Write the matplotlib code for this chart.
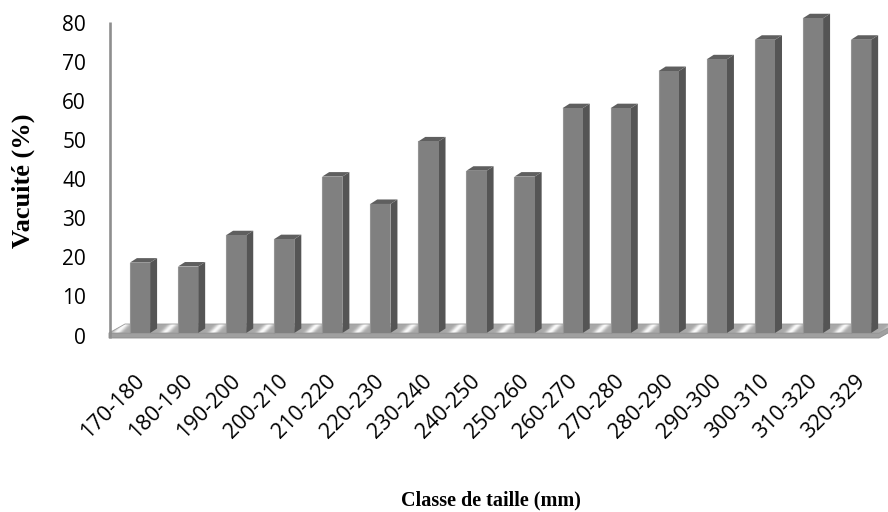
import numpy as np
import matplotlib
matplotlib.use("Agg")
import matplotlib.pyplot as plt
from matplotlib.patches import Polygon

# Size classes (mm) and stomach vacuity (%)
classes = ["170-180", "180-190", "190-200", "200-210", "210-220", "220-230",
           "230-240", "240-250", "250-260", "260-270", "270-280", "280-290",
           "290-300", "300-310", "310-320", "320-329"]
vacuite = [18, 17, 25, 24, 40, 33, 49, 41.5, 40, 57.5, 57.5, 67, 70, 75, 80.5, 75]
yticks = [0, 10, 20, 30, 40, 50, 60, 70, 80]

W, H, DPI = 888, 512, 100
fig = plt.figure(figsize=(W / DPI, H / DPI), dpi=DPI)

# pixel geometry of the plotting frame
px0, px1 = 100, 888          # left / right pixel of axes
py_top, py_bot = 5, 345      # top / bottom pixel (from top)
x_c0, x_step = 140.0, 48.07  # pixel centre of first bar, spacing
y_zero, y_scale = 333.0, 3.91  # pixel of value 0, pixels per unit

ax = fig.add_axes([px0 / W, 1 - py_bot / H, (px1 - px0) / W, (py_bot - py_top) / H])
ax.set_xlim((px0 - x_c0) / x_step, (px1 - x_c0) / x_step)
ax.set_ylim((y_zero - py_bot) / y_scale, (y_zero - py_top) / y_scale)
ax.axis("off")

def dx(p):
    return p / x_step

def dy(p):
    return p / y_scale

def xp(p):
    return (p - x_c0) / x_step

def yp(p):
    return (y_zero - p) / y_scale

# floor with metallic streaks
floor_top = [(xp(109), yp(333)), (xp(125), yp(324)), (xp(895), yp(324)), (xp(879), yp(333))]
floor_edge = [(xp(109), yp(333)), (xp(879), yp(333)), (xp(895), yp(324)),
              (xp(895), yp(329)), (xp(879), yp(338)), (xp(109), yp(338))]
edge_patch = Polygon(floor_edge, closed=True, facecolor="#a0a0a0", edgecolor="#8c8c8c",
                     lw=0.6, clip_on=False, zorder=1)
ax.add_patch(edge_patch)

gx = np.linspace(xp(105), xp(900), 800)
gy = np.linspace(yp(340), yp(322), 30)
GX, GY = np.meshgrid(gx, gy)
phase = (GX + 0.5) - 0.08 * (GY - yp(333))
streak = np.cos(2 * np.pi * phase) ** 6
img = 0.66 + 0.32 * streak
im = ax.imshow(img, extent=[gx[0], gx[-1], gy[0], gy[-1]], origin="lower",
               cmap="gray", vmin=0, vmax=1, aspect="auto", zorder=1.5,
               interpolation="bilinear")
top_patch = Polygon(floor_top, closed=True, facecolor="none", edgecolor="#9a9a9a",
                    lw=0.6, clip_on=False, zorder=1.6)
ax.add_patch(top_patch)
im.set_clip_path(top_patch)
im.set_clip_on(True)

# vertical value axis
ax.plot([xp(110), xp(110)], [yp(22), yp(338)], color="#8e8e8e", lw=1.9,
        solid_capstyle="butt", clip_on=False, zorder=2)

# 3D-looking bars
hw = 0.21
ddx, ddy = dx(7), dy(4.5)
for i, v in enumerate(vacuite):
    x0, x1 = i - hw, i + hw
    side = Polygon([(x1, 0), (x1 + ddx, ddy), (x1 + ddx, v + ddy), (x1, v)],
                   closed=True, facecolor="#555555", edgecolor="none", zorder=3)
    top = Polygon([(x0, v), (x1, v), (x1 + ddx, v + ddy), (x0 + ddx, v + ddy)],
                  closed=True, facecolor="#5f5f5f", edgecolor="none", zorder=3)
    ax.add_patch(side)
    ax.add_patch(top)
    ax.bar(i, v, width=2 * hw, color="#808080", edgecolor="none", zorder=4)
    ax.plot([x0, x0], [0, v], color="#949494", lw=0.8, zorder=4.1)

# value tick labels
for t in yticks:
    ax.text(xp(86), yp(y_zero - y_scale * t + 5), str(t), ha="right", va="center",
            fontsize=15, family="Open Sans", color="#000000", clip_on=False)

# class labels
for i, c in enumerate(classes):
    ax.text(i + dx(1), yp(378), c, rotation=45, rotation_mode="anchor",
            ha="right", va="center", fontsize=15.5, family="Open Sans",
            color="#000000", clip_on=False)

fig.text(23 / W, 1 - 181 / H, "Vacuité (%)", rotation=90, ha="center", va="center",
         fontsize=19, fontweight="bold", family="Liberation Serif")
fig.text(491 / W, 1 - 500 / H, "Classe de taille (mm)", ha="center", va="center",
         fontsize=14.5, fontweight="bold", family="Liberation Serif")

fig.savefig("out.png", dpi=DPI)
